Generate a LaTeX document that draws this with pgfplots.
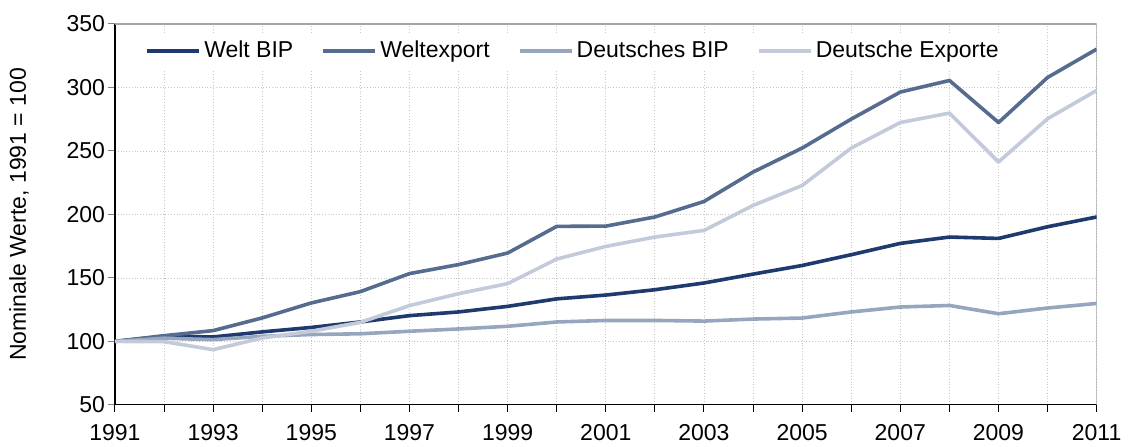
\documentclass[border=0pt]{standalone}
\usepackage{pgfplots}
\pgfplotsset{compat=1.18}
\usepackage{fontspec}
\setmainfont{Liberation Sans}
\definecolor{cwbip}{HTML}{1F3A6E}
\definecolor{cwexp}{HTML}{566C8E}
\definecolor{cdbip}{HTML}{97A6BF}
\definecolor{cdexp}{HTML}{C3CBDA}
\begin{document}
\begin{tikzpicture}
\begin{axis}[
  name=ax,
  scale only axis, width=491pt, height=190.5pt,
  xmin=1991, xmax=2011, ymin=50, ymax=350,
  xtick={1991,1992,...,2011},
  xticklabels={1991,,1993,,1995,,1997,,1999,,2001,,2003,,2005,,2007,,2009,,2011},
  ytick={50,100,...,350},
  grid=major, grid style={densely dotted, black!22, line width=0.4pt},
  axis x line*=bottom, axis y line*=left, axis line style={-, black, line width=0.6pt},
  tick align=outside, major tick length=3.5pt,
  xtick style={black, line width=0.5pt},
  ytick style={gray, line width=0.5pt},
  tick label style={font=\fontsize{11.5}{13}\selectfont},
  xticklabel style={yshift=-2.5pt},
  yticklabel style={xshift=2pt},
  /pgf/number format/assume math mode=true,
  ylabel={Nominale Werte, 1991 = 100},
  ylabel style={font=\fontsize{11.5}{13}\selectfont, yshift=12pt},
  legend columns=4,
  legend style={at={(0.467,0.929)}, anchor=center, draw=none, fill=white,
    font=\fontsize{11.5}{13}\selectfont, column sep=0pt,
    nodes={inner xsep=1.5pt},
    /tikz/every even column/.append style={column sep=12.5pt}},
  legend cell align=left,
  legend image code/.code={\draw[#1, line width=2pt] (0pt,0pt) -- (26pt,0pt);},
  every axis plot/.append style={line width=1.8pt, mark=none, line join=round},
]
\draw[gray!70, line width=0.6pt] (axis cs:1991,350) -- (axis cs:2011,350) -- (axis cs:2011,50);
\addplot[cwbip] coordinates {
(1991,100) (1992,104) (1993,103.5) (1994,107.5) (1995,111) (1996,115.3) (1997,120.3)
(1998,123.2) (1999,127.6) (2000,133.5) (2001,136.5) (2002,140.7) (2003,146) (2004,153)
(2005,159.8) (2006,168.3) (2007,177.2) (2008,182.2) (2009,181.1) (2010,190.3) (2011,198)};
\addlegendentry{Welt BIP}
\addplot[cwexp] coordinates {
(1991,100) (1992,104.5) (1993,108.5) (1994,118.5) (1995,130.3) (1996,139.2) (1997,153.4)
(1998,160.5) (1999,169.6) (2000,190.6) (2001,190.8) (2002,198) (2003,210.2) (2004,233.4)
(2005,252.3) (2006,275.1) (2007,296.4) (2008,305.5) (2009,272.4) (2010,307.9) (2011,330.2)};
\addlegendentry{Weltexport}
\addplot[cdbip] coordinates {
(1991,100) (1992,102.5) (1993,101.4) (1994,104) (1995,105.4) (1996,106) (1997,108)
(1998,109.8) (1999,111.9) (2000,115.3) (2001,116.5) (2002,116.5) (2003,116) (2004,117.6)
(2005,118.4) (2006,123.2) (2007,127.1) (2008,128.3) (2009,121.8) (2010,126.3) (2011,129.9)};
\addlegendentry{Deutsches BIP}
\addplot[cdexp] coordinates {
(1991,100) (1992,99.8) (1993,93.5) (1994,102.7) (1995,108) (1996,115) (1997,128.2)
(1998,137.6) (1999,145.5) (2000,164.9) (2001,174.8) (2002,182.2) (2003,187.4) (2004,207.1)
(2005,222.8) (2006,252.3) (2007,272.4) (2008,279.8) (2009,241.3) (2010,275.4) (2011,297.7)};
\addlegendentry{Deutsche Exporte}
\end{axis}
\path (ax.north west) ++(-57.5pt,12pt) coordinate (tl);
\path (ax.south east) ++(15pt,-20.5pt) coordinate (br);
\path (tl) (br);
\end{tikzpicture}
\end{document}
